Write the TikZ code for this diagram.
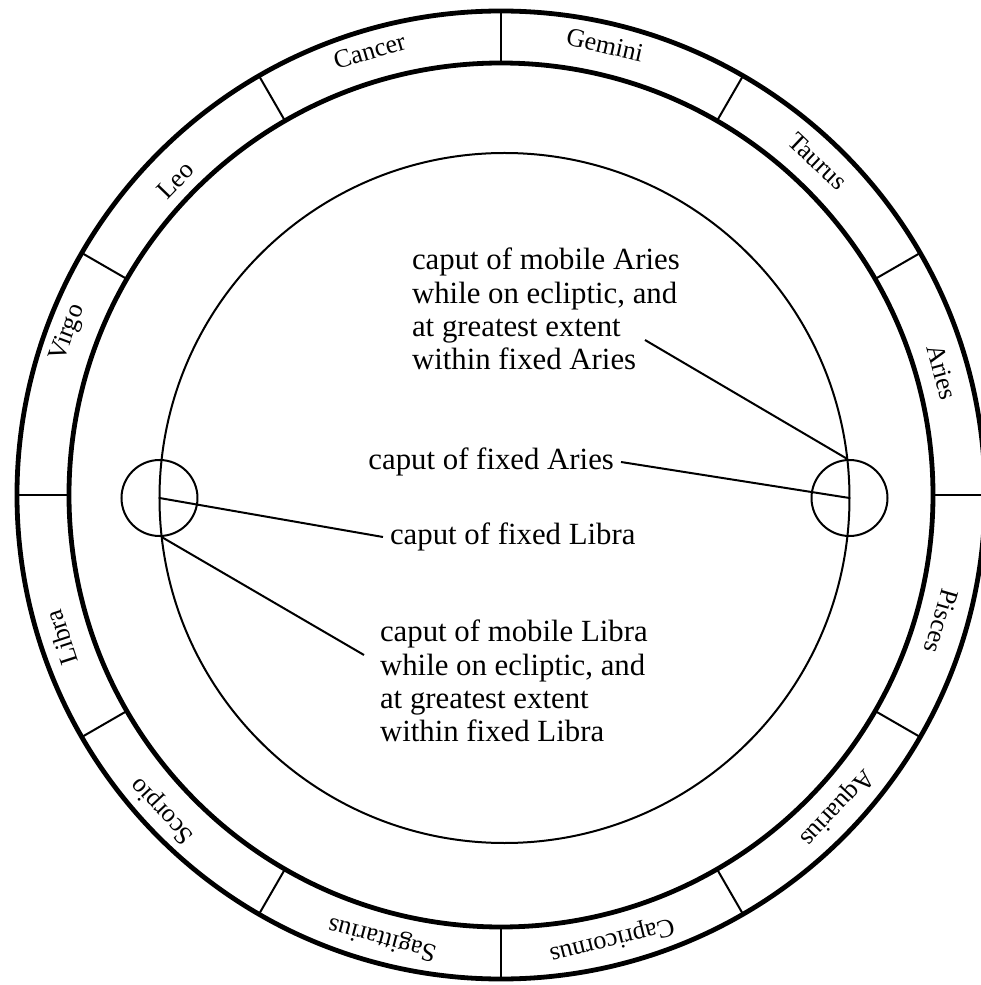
\documentclass[tikz,border=0pt]{standalone}
\usepackage{fontspec}
\setmainfont{Liberation Serif}
\usetikzlibrary{calc,positioning}

\begin{document}
\begin{tikzpicture}[
    x=0.5pt, y=0.5pt,
    rim/.style   = {line width=2.4pt},
    ecl/.style   = {line width=1pt},
    cut/.style   = {line width=1pt},
    lead/.style  = {line width=1pt},
    caput/.style = {draw, circle, line width=1pt, minimum size=38pt, inner sep=0pt},
    sign/.style  = {font=\fontsize{13}{14}\selectfont, inner sep=0pt},
    note/.style  = {font=\fontsize{15.4}{16.6}\selectfont, align=left}
  ]
  \useasboundingbox (-501,-490) rectangle (479,495);

  %–––– zodiac band ––––
  \coordinate (O) at (0,0);
  \draw[rim] (O) circle (484);
  \draw[rim] (O) circle (432);
  \foreach \a in {0,30,...,330}
    \draw[cut] (\a:432) -- (\a:484);

  % sign names, tops turned outward
  \foreach \a/\r/\s in {15.6/458/Aries, 46.5/460/Taurus, 77/462/Gemini,
                        106.5/463/Cancer, 136/453/Leo, 159.5/462/Virgo,
                        198/462/Libra, 223/462/Scorpio, 255/458/Sagittarius,
                        284/458/Capricornus, 317/458/Aquarius, 344/458/Pisces}
    \node[sign, rotate=\a-90] (\s) at (\a:\r) {\s};

  %–––– ecliptic and the two capita ––––
  \coordinate (E) at (3.5,-3);
  \draw[ecl] (E) circle (345);
  \coordinate (fixA) at ($(E)+(0:345)$);
  \coordinate (mobA) at ($(E)+(6.5:345)$);
  \coordinate (fixL) at ($(E)+(180:345)$);
  \coordinate (mobL) at ($(E)+(186.5:345)$);
  \node[caput] (cA) at (fixA) {};
  \node[caput] (cL) at (fixL) {};

  %–––– labels ––––
  \node[note, anchor=east] (tFixA) at (120,33) {caput of fixed Aries};
  \node[note, anchor=west] (tFixL) at (-118,-42) {caput of fixed Libra};
  \node[note, anchor=west] (tMobA) at (-96,186)
    {caput of mobile Aries\\while on ecliptic, and\\at greatest extent\\within fixed Aries};
  \node[note, anchor=west] (tMobL) at (-128,-186)
    {caput of mobile Libra\\while on ecliptic, and\\at greatest extent\\within fixed Libra};

  \coordinate (tailA) at (144,155);
  \coordinate (tailL) at (-137,-160);

  %–––– leaders ––––
  \draw[lead] (tFixA.east) -- (fixA);
  \draw[lead] (tFixL.west) -- (fixL);
  \draw[lead] (tailA) -- (mobA);
  \draw[lead] (tailL) -- (mobL);
\end{tikzpicture}
\end{document}
